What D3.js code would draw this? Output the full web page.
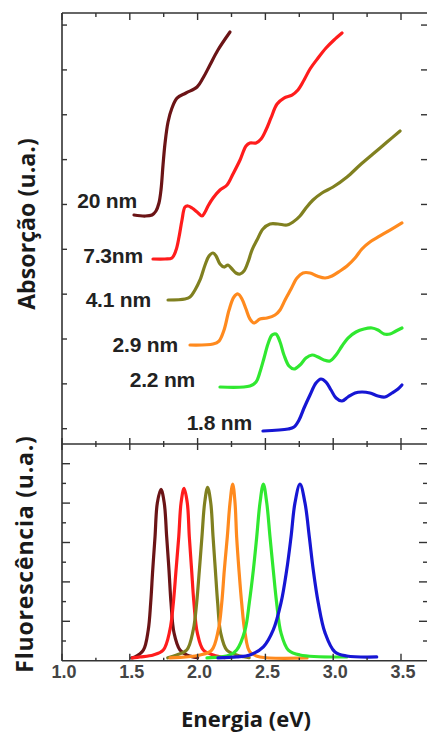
<!DOCTYPE html>
<html><head><meta charset="utf-8">
<script src="https://cdn.jsdelivr.net/npm/d3@7"></script>
<style>html,body{margin:0;padding:0;background:#fff;}svg{display:block;}</style>
</head><body>
<svg id="c" width="427" height="736"></svg>
<script>
// ---- data ----
const sizes = ["20 nm", "7.3nm", "4.1 nm", "2.9 nm", "2.2 nm", "1.8 nm"];
const colors = ["#6b1416", "#ff1c1c", "#808020", "#ff8a1e", "#30e830", "#1616d4"];
const xTicks = [1.0, 1.5, 2.0, 2.5, 3.0, 3.5];

// absorption spectra: [energy eV, absorbance a.u.]
const abs20 = [[1.531,4.765],[1.612,4.742],[1.664,4.765],[1.693,4.854],[1.715,5.032],[1.730,5.322],[1.745,5.880],[1.760,6.370],[1.782,6.838],[1.811,7.151],[1.848,7.373],[1.914,7.485],[1.996,7.619],[2.040,7.819],[2.091,8.109],[2.150,8.444],[2.239,8.845]];
const abs73 = [[1.671,3.784],[1.760,3.784],[1.811,3.806],[1.841,3.984],[1.863,4.274],[1.885,4.653],[1.907,4.943],[1.929,4.966],[1.959,4.921],[1.996,4.832],[2.032,4.743],[2.055,4.832],[2.077,4.966],[2.114,5.144],[2.165,5.322],[2.217,5.434],[2.261,5.679],[2.313,5.991],[2.357,6.303],[2.386,6.370],[2.431,6.370],[2.468,6.459],[2.504,6.660],[2.541,6.928],[2.586,7.240],[2.637,7.373],[2.696,7.440],[2.740,7.552],[2.785,7.775],[2.829,8.020],[2.888,8.265],[2.947,8.488],[3.006,8.667],[3.065,8.823]];
const abs41 = [[1.782,2.870],[1.907,2.892],[1.944,2.936],[1.981,3.093],[2.018,3.316],[2.055,3.650],[2.084,3.851],[2.114,3.918],[2.136,3.851],[2.165,3.672],[2.195,3.605],[2.224,3.650],[2.254,3.561],[2.283,3.472],[2.313,3.449],[2.342,3.516],[2.372,3.717],[2.401,3.984],[2.438,4.207],[2.482,4.453],[2.534,4.564],[2.593,4.564],[2.659,4.542],[2.704,4.609],[2.755,4.743],[2.799,4.921],[2.851,5.099],[2.917,5.256],[2.999,5.389],[3.102,5.612],[3.198,5.880],[3.293,6.125],[3.397,6.392],[3.493,6.638]];
const abs29 = [[1.944,1.866],[2.114,1.889],[2.158,1.955],[2.195,2.201],[2.232,2.647],[2.268,2.937],[2.298,3.004],[2.327,2.892],[2.357,2.669],[2.386,2.446],[2.416,2.357],[2.460,2.446],[2.512,2.468],[2.571,2.535],[2.608,2.647],[2.645,2.870],[2.689,3.115],[2.733,3.360],[2.777,3.472],[2.829,3.472],[2.881,3.405],[2.940,3.360],[2.991,3.405],[3.050,3.516],[3.102,3.628],[3.161,3.806],[3.212,4.007],[3.271,4.163],[3.345,4.297],[3.419,4.430],[3.507,4.587]];
const abs22 = [[2.165,0.930],[2.386,0.952],[2.431,1.041],[2.460,1.264],[2.490,1.576],[2.519,1.888],[2.549,2.089],[2.578,2.111],[2.608,1.933],[2.637,1.643],[2.674,1.398],[2.711,1.331],[2.755,1.420],[2.799,1.576],[2.844,1.643],[2.888,1.599],[2.932,1.532],[2.976,1.509],[3.021,1.643],[3.065,1.844],[3.109,2.022],[3.168,2.156],[3.227,2.223],[3.286,2.245],[3.330,2.201],[3.375,2.111],[3.419,2.111],[3.463,2.178],[3.507,2.245]];
const abs18 = [[2.482,-0.051],[2.667,-0.007],[2.711,0.038],[2.748,0.194],[2.785,0.462],[2.829,0.751],[2.873,1.019],[2.910,1.108],[2.947,1.041],[2.984,0.863],[3.021,0.684],[3.065,0.618],[3.109,0.707],[3.161,0.796],[3.212,0.818],[3.271,0.796],[3.330,0.729],[3.382,0.707],[3.434,0.796],[3.478,0.885],[3.507,0.974]];

// fluorescence spectra: [energy eV, intensity a.u.]
const fl20 = [[1.514,0.014],[1.538,0.019],[1.600,0.054],[1.636,0.156],[1.654,0.293],[1.669,0.460],[1.686,0.628],[1.703,0.801],[1.730,0.870],[1.754,0.801],[1.772,0.628],[1.789,0.460],[1.804,0.293],[1.826,0.141],[1.870,0.054],[1.920,0.029],[2.000,0.015]];
const fl73 = [[1.520,0.014],[1.575,0.019],[1.673,0.029],[1.747,0.054],[1.796,0.156],[1.821,0.293],[1.841,0.460],[1.861,0.628],[1.878,0.801],[1.900,0.875],[1.924,0.801],[1.939,0.628],[1.956,0.460],[1.973,0.293],[1.998,0.141],[2.042,0.054],[2.116,0.029],[2.200,0.015]];
const fl41 = [[1.780,0.015],[1.846,0.029],[1.920,0.054],[1.968,0.156],[1.993,0.293],[2.013,0.460],[2.032,0.628],[2.052,0.801],[2.074,0.880],[2.097,0.801],[2.114,0.628],[2.131,0.460],[2.148,0.293],[2.170,0.141],[2.215,0.054],[2.288,0.029],[2.380,0.015]];
const fl29 = [[1.796,0.014],[2.018,0.029],[2.104,0.054],[2.153,0.156],[2.178,0.293],[2.197,0.460],[2.219,0.628],[2.239,0.801],[2.259,0.897],[2.276,0.801],[2.288,0.628],[2.305,0.460],[2.325,0.293],[2.350,0.141],[2.386,0.044],[2.460,0.019],[2.807,0.014]];
const fl22 = [[2.069,0.014],[2.239,0.029],[2.288,0.054],[2.350,0.156],[2.381,0.293],[2.411,0.460],[2.436,0.628],[2.460,0.801],[2.485,0.897],[2.510,0.801],[2.534,0.628],[2.558,0.460],[2.583,0.293],[2.615,0.141],[2.669,0.054],[2.755,0.029],[3.100,0.019]];
const fl18 = [[2.150,0.014],[2.288,0.019],[2.386,0.029],[2.485,0.070],[2.558,0.156],[2.615,0.293],[2.657,0.460],[2.689,0.628],[2.718,0.801],[2.755,0.897],[2.792,0.801],[2.824,0.628],[2.853,0.460],[2.890,0.293],[2.940,0.141],[3.013,0.044],[3.100,0.024],[3.321,0.019]];

// label anchors in data units [energy at text end, absorbance at baseline]
const labelE = [1.553, 1.597, 1.656, 1.855, 1.981, 2.401];
const labelA = [4.921, 3.695, 2.710, 1.710, 0.930, -0.029];

const absSeries = [abs20, abs73, abs41, abs29, abs22, abs18];
const flSeries = [fl20, fl73, fl41, fl29, fl22, fl18];

// ---- layout ----
const L = 62, R = 428, T = 13, MID = 444, B = 660.7;
const svg = d3.select("#c");

const x = d3.scaleLinear().domain([1.0, 3.5]).range([L, 401]);
const yA = d3.scaleLinear().domain([-0.341, 9.269]).range([MID, T]);
const yF = d3.scaleLinear().domain([0, 1.1]).range([B, MID]);

const axisCol = "#333";
const g = svg.append("g");

// curves
const lineA = d3.line().x(d => x(d[0])).y(d => yA(d[1])).curve(d3.curveCatmullRom.alpha(0.5));
const lineF = d3.line().x(d => x(d[0])).y(d => yF(d[1])).curve(d3.curveCatmullRom.alpha(0.5));

g.selectAll("path.abs").data(absSeries).join("path")
  .attr("class", "abs").attr("d", lineA).attr("fill", "none")
  .attr("stroke", (d, i) => colors[i]).attr("stroke-width", 3.2)
  .attr("stroke-linejoin", "round").attr("stroke-linecap", "round");

g.selectAll("path.fl").data(flSeries).join("path")
  .attr("class", "fl").attr("d", lineF).attr("fill", "none")
  .attr("stroke", (d, i) => colors[i]).attr("stroke-width", 3.2)
  .attr("stroke-linejoin", "round").attr("stroke-linecap", "round");

// labels
g.selectAll("text.lab").data(sizes).join("text")
  .attr("class", "lab")
  .attr("x", (d, i) => x(labelE[i])).attr("y", (d, i) => yA(labelA[i]))
  .attr("text-anchor", "end")
  .attr("font-family", "'Liberation Sans', Arial, sans-serif")
  .attr("font-weight", "bold").attr("font-size", 21)
  .attr("letter-spacing", -0.2)
  .attr("fill", "#222").text(d => d);

// frame
const fr = svg.append("g").attr("stroke", axisCol).attr("stroke-width", 1.6).attr("fill", "none");
fr.append("line").attr("x1", L).attr("x2", L).attr("y1", T).attr("y2", B);
fr.append("line").attr("x1", R).attr("x2", R).attr("y1", T).attr("y2", B);
fr.append("line").attr("x1", L).attr("x2", R).attr("y1", T).attr("y2", T);
fr.append("line").attr("x1", L).attr("x2", R).attr("y1", MID).attr("y2", MID);
fr.append("line").attr("x1", L).attr("x2", R).attr("y1", B).attr("y2", B);

// x ticks
const xMinor = d3.range(1.25, 3.6, 0.5);
const tk = svg.append("g").attr("stroke", axisCol).attr("stroke-width", 1.4);
xTicks.forEach(v => {
  tk.append("line").attr("x1", x(v)).attr("x2", x(v)).attr("y1", T).attr("y2", T + 7);
  tk.append("line").attr("x1", x(v)).attr("x2", x(v)).attr("y1", MID - 6).attr("y2", MID + 6);
  tk.append("line").attr("x1", x(v)).attr("x2", x(v)).attr("y1", B - 7).attr("y2", B);
});
xMinor.forEach(v => {
  tk.append("line").attr("x1", x(v)).attr("x2", x(v)).attr("y1", T).attr("y2", T + 4);
  tk.append("line").attr("x1", x(v)).attr("x2", x(v)).attr("y1", MID - 3).attr("y2", MID + 3);
  tk.append("line").attr("x1", x(v)).attr("x2", x(v)).attr("y1", B - 3).attr("y2", B);
});
// y ticks upper
d3.range(0, 10).forEach(v => {
  tk.append("line").attr("x1", L).attr("x2", L + 5).attr("y1", yA(v)).attr("y2", yA(v));
  tk.append("line").attr("x1", R - 7).attr("x2", R).attr("y1", yA(v)).attr("y2", yA(v));
});
// y ticks lower
d3.range(1, 11).forEach(k => {
  const v = k / 10, len = (k % 2 === 0) ? 8 : 4;
  tk.append("line").attr("x1", L).attr("x2", L + len).attr("y1", yF(v)).attr("y2", yF(v));
  tk.append("line").attr("x1", R - len - 1).attr("x2", R).attr("y1", yF(v)).attr("y2", yF(v));
});

// x tick labels
svg.append("g").selectAll("text").data(xTicks).join("text")
  .attr("x", d => x(d) + 2).attr("y", 678)
  .attr("text-anchor", "middle")
  .attr("font-family", "'Liberation Sans', Arial, sans-serif")
  .attr("font-weight", "bold").attr("font-size", 18)
  .attr("fill", "#444").text(d => d.toFixed(1));

// axis titles
svg.append("text").attr("x", 246).attr("y", 727).attr("text-anchor", "middle")
  .attr("font-family", "'Open Sans', sans-serif").attr("font-weight", "bold")
  .attr("font-size", 22).attr("fill", "#1a1a1a").text("Energia (eV)");

svg.append("text").attr("transform", "translate(35,224) rotate(-90)").attr("text-anchor", "middle")
  .attr("font-family", "'Open Sans', sans-serif").attr("font-weight", "bold")
  .attr("font-size", 23).attr("letter-spacing", 0.1).attr("fill", "#1a1a1a").text("Absorção (u.a.)");

svg.append("text").attr("transform", "translate(33,554) rotate(-90)").attr("text-anchor", "middle")
  .attr("font-family", "'Open Sans', sans-serif").attr("font-weight", "bold")
  .attr("font-size", 23).attr("letter-spacing", 0.8).attr("fill", "#1a1a1a").text("Fluorescência (u.a.)");
</script>
</body></html>
